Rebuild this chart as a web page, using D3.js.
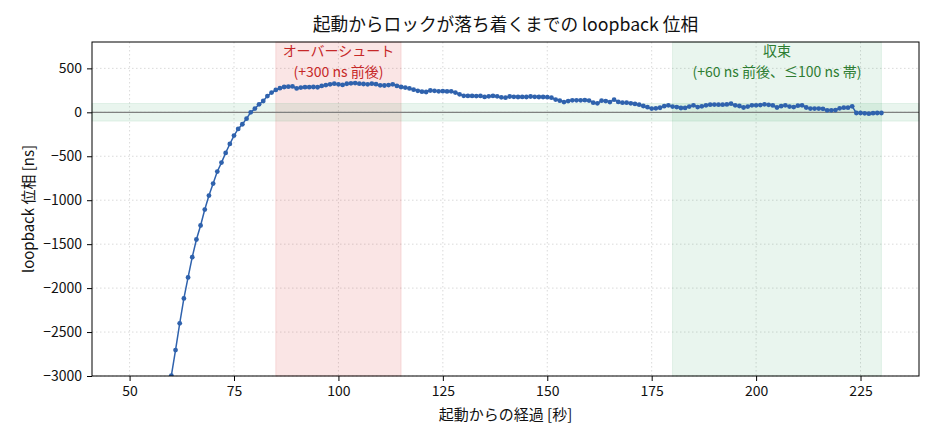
<!DOCTYPE html>
<html>
<head>
<meta charset="utf-8">
<script src="https://cdn.jsdelivr.net/npm/d3@7"></script>
<style>
  body { margin: 0; background: #fff; }
  svg text { font-family: "Noto Sans CJK JP", "Noto Sans", sans-serif; fill: #111; }
  .grid line { stroke: #d0d0d0; stroke-dasharray: 1.5,2.5; stroke-width: 0.8; }
  .axis path, .axis line { stroke: #000; }
</style>
</head>
<body>
<div id="chart"></div>
<script>
// seconds since start (1 s steps) and loopback phase in ns
const seconds = d3.range(60, 231);
const phase = [
  -2995, -2705, -2401, -2117, -1878, -1648, -1447, -1288, -1106, -947,
  -811, -674, -572, -462, -360, -265, -189, -136, -72, 0,
  42, 91, 129, 185, 225, 255, 275, 288, 292, 295,
  272, 282, 286, 286, 288, 285, 300, 310, 318, 326,
  318, 312, 325, 330, 333, 326, 322, 318, 326, 320,
  307, 305, 310, 318, 300, 288, 282, 272, 258, 245,
  235, 231, 248, 245, 239, 240, 238, 239, 225, 205,
  188, 186, 186, 185, 186, 175, 182, 186, 182, 170,
  167, 180, 176, 174, 175, 174, 180, 176, 174, 174,
  172, 167, 145, 132, 117, 128, 136, 136, 136, 138,
  134, 110, 102, 132, 128, 117, 144, 118, 110, 110,
  102, 95, 87, 72, 58, 42, 45, 52, 70, 80,
  65, 60, 49, 50, 65, 80, 60, 68, 80, 87,
  88, 87, 87, 90, 98, 80, 72, 55, 65, 80,
  80, 82, 91, 85, 78, 55, 70, 80, 65, 60,
  75, 80, 55, 42, 42, 42, 40, 23, 23, 25,
  45, 53, 53, 68, -8, -8, -12, -15, -10, -8, -8
];
const xTicks = [50, 75, 100, 125, 150, 175, 200, 225];
const yTicks = [-3000, -2500, -2000, -1500, -1000, -500, 0, 500];
const overshootSpan = [85, 115];
const settleSpan = [180, 230];
const band = [-100, 100];

const data = seconds.map((s, i) => ({x: s, y: phase[i]}));

const W = 935, H = 440;
const margin = {top: 42, right: 16, bottom: 64, left: 92};
const iw = W - margin.left - margin.right;
const ih = H - margin.top - margin.bottom;

const svg = d3.select("#chart").append("svg")
  .attr("width", W).attr("height", H);

const x = d3.scaleLinear().domain([41, 239]).range([0, iw]);
const y = d3.scaleLinear().domain([-3000, 800]).range([ih, 0]);

const g = svg.append("g").attr("transform", `translate(${margin.left},${margin.top})`);

svg.append("defs").append("clipPath").attr("id", "clip")
  .append("rect").attr("width", iw).attr("height", ih);

// grid
g.append("g").attr("class", "grid")
  .selectAll("line.v").data(xTicks).join("line")
  .attr("x1", d => x(d)).attr("x2", d => x(d)).attr("y1", 0).attr("y2", ih);
g.append("g").attr("class", "grid")
  .selectAll("line.h").data(yTicks).join("line")
  .attr("x1", 0).attr("x2", iw).attr("y1", d => y(d)).attr("y2", d => y(d));

// shaded spans
g.append("rect")
  .attr("x", x(overshootSpan[0])).attr("width", x(overshootSpan[1]) - x(overshootSpan[0]))
  .attr("y", 0).attr("height", ih)
  .attr("fill", "#d62728").attr("fill-opacity", 0.12)
  .attr("stroke", "#d62728").attr("stroke-opacity", 0.12);
g.append("rect")
  .attr("x", x(settleSpan[0])).attr("width", x(settleSpan[1]) - x(settleSpan[0]))
  .attr("y", 0).attr("height", ih)
  .attr("fill", "#2ca05a").attr("fill-opacity", 0.1)
  .attr("stroke", "#2ca05a").attr("stroke-opacity", 0.1);
g.append("rect")
  .attr("x", 0).attr("width", iw)
  .attr("y", y(band[1])).attr("height", y(band[0]) - y(band[1]))
  .attr("fill", "#2ca05a").attr("fill-opacity", 0.1)
  .attr("stroke", "#2ca05a").attr("stroke-opacity", 0.1);

// zero line
g.append("line")
  .attr("x1", 0).attr("x2", iw).attr("y1", y(0)).attr("y2", y(0))
  .attr("stroke", "#808080").attr("stroke-width", 1.3);

// series
const plot = g.append("g").attr("clip-path", "url(#clip)");
plot.append("path")
  .datum(data)
  .attr("fill", "none")
  .attr("stroke", "#2f62ad")
  .attr("stroke-width", 1.5)
  .attr("d", d3.line().x(d => x(d.x)).y(d => y(d.y)));
plot.selectAll("circle").data(data).join("circle")
  .attr("cx", d => x(d.x)).attr("cy", d => y(d.y))
  .attr("r", 2.4).attr("fill", "#2f62ad");

// annotations
const ann = [
  {x: 100, lines: ["オーバーシュート", "(+300 ns 前後)"], color: "#c62828"},
  {x: 205, lines: ["収束", "(+60 ns 前後、≤100 ns 帯)"], color: "#2e7d32"}
];
ann.forEach(a => {
  a.lines.forEach((l, i) => {
    g.append("text")
      .attr("x", x(a.x)).attr("y", 14 + i * 20.5)
      .attr("text-anchor", "middle")
      .style("font-size", "14px").style("fill", a.color)
      .text(l);
  });
});

// axes
const xAxis = g.append("g").attr("class", "axis")
  .attr("transform", `translate(0,${ih})`)
  .call(d3.axisBottom(x).tickValues(xTicks).tickSize(5).tickPadding(5));
const yAxis = g.append("g").attr("class", "axis")
  .call(d3.axisLeft(y).tickValues(yTicks).tickSize(5).tickPadding(5).tickFormat(d3.format("d")));
[xAxis, yAxis].forEach(a => {
  a.selectAll("text").style("font-size", "14px").attr("fill", "#111");
  a.select(".domain").remove();
});

// frame
g.append("rect").attr("width", iw).attr("height", ih)
  .attr("fill", "none").attr("stroke", "#000").attr("stroke-width", 1);

// titles
svg.append("text")
  .attr("x", margin.left + iw / 2).attr("y", 31)
  .attr("text-anchor", "middle").style("font-size", "17.7px")
  .text("起動からロックが落ち着くまでの loopback 位相");
svg.append("text")
  .attr("x", margin.left + iw / 2).attr("y", 420)
  .attr("text-anchor", "middle").style("font-size", "15px")
  .text("起動からの経過 [秒]");
svg.append("text")
  .attr("transform", `translate(34,${margin.top + ih / 2}) rotate(-90)`)
  .attr("text-anchor", "middle").style("font-size", "15px")
  .text("loopback 位相 [ns]");
</script>
</body>
</html>
